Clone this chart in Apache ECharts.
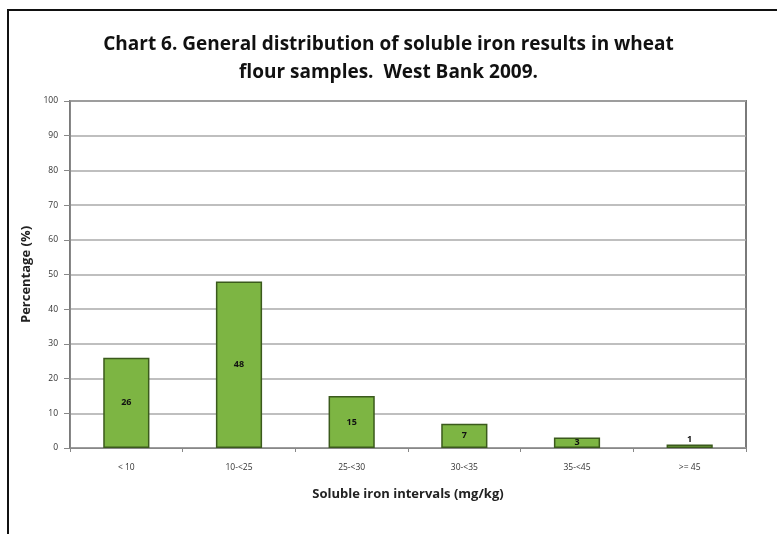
<!DOCTYPE html>
<html><head><meta charset="utf-8">
<script src="https://cdn.jsdelivr.net/npm/echarts@6/dist/echarts.min.js"></script>
<style>html,body{margin:0;padding:0;background:#fff}#c{width:777px;height:534px}</style>
</head><body><div id="c"></div>
<script>
const categories = ['< 10', '10-<25', '25-<30', '30-<35', '35-<45', '>= 45'];
const values = [26, 48, 15, 7, 3, 1];
const titleText = 'Chart 6. General distribution of soluble iron results in wheat\nflour samples.  West Bank 2009.';
const yName = 'Percentage (%)';
const xName = 'Soluble iron intervals (mg/kg)';

const chart = echarts.init(document.getElementById('c'));
chart.setOption({
  animation: false,
  backgroundColor: '#fff',
  graphic: [{
    type: 'polyline', silent: true,
    shape: { points: [[8, 534], [8, 10], [777, 10]] },
    style: { stroke: '#111', lineWidth: 2, fill: null }
  }],
  title: {
    text: titleText, left: 'center', top: 26,
    textStyle: { fontFamily: 'Open Sans', fontWeight: 'bold', fontSize: 19, lineHeight: 28, color: '#111' }
  },
  grid: { left: 70, right: 31, top: 101, bottom: 86, show: true, borderColor: '#7a7a7a', borderWidth: 2 },
  xAxis: {
    type: 'category', data: categories,
    name: xName, nameLocation: 'middle', nameGap: 40,
    nameTextStyle: { fontFamily: 'Open Sans', fontWeight: 'bold', fontSize: 13, color: '#222' },
    axisLine: { lineStyle: { color: '#888', width: 1 } },
    axisTick: { show: true, alignWithLabel: false, length: 4, lineStyle: { color: '#888' } },
    axisLabel: { fontFamily: 'Open Sans', fontSize: 8.5, color: '#333', margin: 15 }
  },
  yAxis: {
    type: 'value', min: 0, max: 100, interval: 10,
    name: yName, nameLocation: 'middle', nameGap: 37,
    nameTextStyle: { fontFamily: 'Open Sans', fontWeight: 'bold', fontSize: 13, color: '#222' },
    axisLine: { show: true, lineStyle: { color: '#888', width: 1 } },
    axisTick: { show: true, length: 6, lineStyle: { color: '#888' } },
    axisLabel: { fontFamily: 'Open Sans', fontSize: 8.5, color: '#333', margin: 12 },
    splitLine: { show: true, lineStyle: { color: '#aaa', width: 1.5 } }
  },
  series: [{
    type: 'bar', data: values.map((v, i) => ({ value: v, label: { position: i === values.length - 1 ? 'top' : 'inside' } })),
    barWidth: '41%',
    itemStyle: { color: '#7db543', borderColor: '#3b5a1c', borderWidth: 1.5 },
    label: { show: true, fontFamily: 'Open Sans', fontWeight: 'bold', fontSize: 9, color: '#111', distance: 1 }
  }]
});
</script></body></html>
